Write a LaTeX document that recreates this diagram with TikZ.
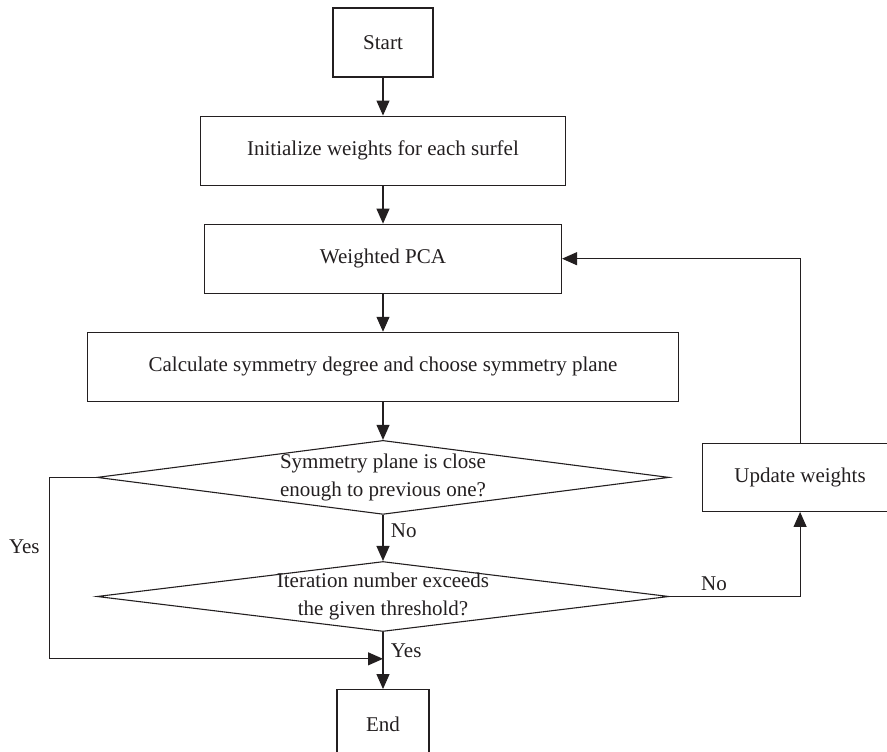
\documentclass[tikz,border=0pt]{standalone}
\usepackage{fontspec}
\setmainfont{Liberation Serif}
\usetikzlibrary{shapes.geometric, arrows.meta, positioning, calc}
\definecolor{flowink}{RGB}{35, 31, 32}

\begin{document}
\begin{tikzpicture}[
          x=1pt, y=1pt,
          node distance=38pt,
          stepbox/.style={rectangle, draw=flowink, line width=1.1pt, inner sep=0pt, minimum height=69pt, text=flowink, font=\fontsize{21}{28}\selectfont, align=center},
          testbox/.style={diamond, aspect=8, draw=flowink, line width=1.1pt, inner sep=-4pt, minimum width=572pt, text=flowink, font=\fontsize{21}{28}\selectfont, align=center},
          lbl/.style={text=flowink, font=\fontsize{21}{24}\selectfont},
          arr/.style={-{Triangle[length=15pt, width=13pt]}, line width=1.1pt, draw=flowink}
        ]
          \useasboundingbox (0,0) rectangle (887,-752);

          \node[stepbox, minimum width=100pt] (start) at (383,-42.5) {Start};
          \node[stepbox, minimum width=365pt, below=of start] (init) {Initialize weights for each surfel};
          \node[stepbox, minimum width=357pt, below=of init] (wpca) {Weighted PCA};
          \node[stepbox, minimum width=591pt, below=of wpca] (calc) {Calculate symmetry degree and choose symmetry plane};
          \node[testbox, minimum height=74pt, below=of calc] (close) {Symmetry plane is close\\enough to previous one?};
          \node[testbox, minimum height=70pt, below=46pt of close] (iter) {Iteration number exceeds\\the given threshold?};
          \node[stepbox, minimum width=92pt, below=57pt of iter] (end) {End};
          \node[stepbox, minimum width=196pt, minimum height=68pt, right=32pt of close] (upd) {Update weights};
          \coordinate (join) at ($(iter.south)!0.47!(end.north)$);

          \draw[arr] (start) -- (init);
          \draw[arr] (init) -- (wpca);
          \draw[arr] (wpca) -- (calc);
          \draw[arr] (calc) -- (close);
          \draw[arr] (close) -- node[lbl, pos=0.35, right=4pt] (no1) {No} (iter);
          \draw[arr] (iter) -- node[lbl, pos=0.33, right=4pt] (yes2) {Yes} (end);
          \draw[arr] (close.west) -- ++(-47,0) |- node[lbl, pos=0.19, left=6pt] (yes1) {Yes} (join);
          \draw[arr] (iter) -| node[lbl, pos=0.17, above=2pt] (no2) {No} (upd);
          \draw[arr] (upd) |- (wpca);
        \end{tikzpicture}
\end{document}
